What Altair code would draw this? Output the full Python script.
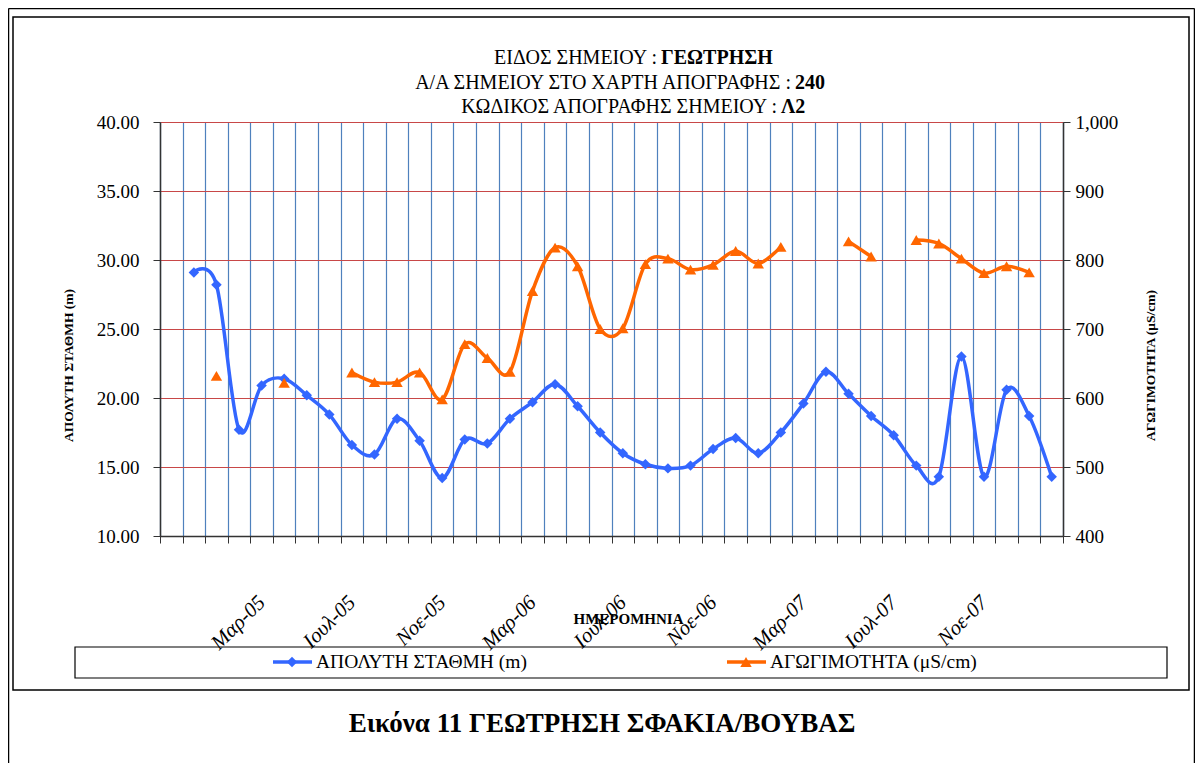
import altair as alt
import pandas as pd

# ---- data (monthly slots, slot 0 = Nov-04) ----
SLOTS = list(range(1, 40))  # Dec-04 ... Feb-08
LEVEL = [29.1, 28.2, 17.7, 20.9, 21.4, 20.2, 18.8, 16.6, 15.9, 18.5,
         16.9, 14.2, 17.0, 16.7, 18.5, 19.7, 21.0, 19.4, 17.5, 16.0,
         15.2, 14.9, 15.1, 16.3, 17.1, 16.0, 17.5, 19.6, 21.9, 20.3,
         18.7, 17.3, 15.1, 14.3, 23.0, 14.3, 20.6, 18.7, 14.3]
COND = [None, 632, None, None, 622, None, None, 637, 623, 623,
        637, 598, 678, 658, 638, 755, 818, 791, 700, 701,
        794, 802, 786, 793, 813, 795, 819, None, None, 827,
        805, None, 829, 824, 802, 781, 791, 782, None]
LABEL_SLOTS = [4, 8, 12, 16, 20, 24, 28, 32, 36]
LABEL_TEXTS = ["Μαρ-05", "Ιουλ-05", "Νοε-05", "Μαρ-06", "Ιουλ-06",
               "Νοε-06", "Μαρ-07", "Ιουλ-07", "Νοε-07"]
N_SLOTS = 40

SERIES_1 = "ΑΠΟΛΥΤΗ ΣΤΑΘΜΗ (m)"
SERIES_2 = "ΑΓΩΓΙΜΟΤΗΤΑ (μS/cm)"

# ---- tables ----
lvl_df = pd.DataFrame({"pos": [s + 0.5 for s in SLOTS], "v": LEVEL})
seg, segs = 0, []
for c in COND:
    if c is None:
        seg += 1
    segs.append(seg)
cond_df = pd.DataFrame({"pos": [s + 0.5 for s in SLOTS], "v": COND, "seg": segs})
cond_df = cond_df[cond_df["v"].notna()]

W, H = 903, 414
FONT = "Liberation Serif"
BLUE = "#3366ff"
ORANGE = "#ff6600"

expr = ""
for s, t in zip(LABEL_SLOTS, LABEL_TEXTS):
    expr += f"datum.value == {s} ? '{t}' : "
expr += "''"

X = alt.X(
    "pos:Q",
    scale=alt.Scale(domain=[0, N_SLOTS], nice=False, zero=False),
    axis=alt.Axis(
        values=list(range(N_SLOTS + 1)), grid=True, gridColor="#4f81bd", gridWidth=1.2,
        labelExpr=expr, labelAngle=315, labelAlign="right", labelBaseline="middle",
        labelOffset=W / N_SLOTS / 2, labelPadding=56, labelFontStyle="italic",
        labelFontSize=21, labelFont=FONT, labelColor="black",
        labelOverlap=False, labelFlush=False,
        tickSize=7, tickColor="#333333", domainColor="#333333", domainWidth=1.5,
        title="ΗΜΕΡΟΜΗΝΙΑ", titleFont=FONT, titleFontWeight="bold", titleFontSize=15,
        titleX=468, titleY=82, titleBaseline="middle", titleAlign="center",
        titleColor="black",
    ),
)

blue_line = alt.Chart(lvl_df).mark_line(
    interpolate="cardinal", color=BLUE, strokeWidth=3.5
).encode(
    x=X,
    y=alt.Y(
        "v:Q",
        scale=alt.Scale(domain=[10, 40], nice=False, zero=False),
        axis=alt.Axis(
            values=[10, 15, 20, 25, 30, 35, 40], format=".2f", grid=True,
            gridColor="#c84848", gridWidth=1.2, labelFont=FONT, labelFontSize=19,
            labelColor="black", labelPadding=14, tickSize=7, tickColor="#333333",
            domainColor="#333333", domainWidth=1.5,
            title=SERIES_1, titleFont=FONT, titleFontSize=13.5, titleFontWeight="bold",
            titleAngle=270, titleX=-92, titleY=243, titleAlign="center",
            titleBaseline="middle", titleColor="black",
        ),
    ),
)
blue_pts = alt.Chart(lvl_df).mark_point(
    shape="diamond", filled=True, size=110, color=BLUE, opacity=1
).encode(x=X, y="v:Q")
blue = alt.layer(blue_line, blue_pts)

Y2 = alt.Y(
    "v:Q",
    scale=alt.Scale(domain=[400, 1000], nice=False, zero=False),
    axis=alt.Axis(
        orient="right", values=[400, 500, 600, 700, 800, 900, 1000], format=",d",
        grid=False, labelFont=FONT, labelFontSize=19, labelColor="black",
        labelPadding=5, tickSize=7, tickColor="#333333", domainColor="#333333",
        domainWidth=1.5, title=SERIES_2, titleFont=FONT, titleFontSize=13.5,
        titleFontWeight="bold", titleAngle=270, titleX=87, titleY=243,
        titleAlign="center", titleBaseline="middle", titleColor="black",
    ),
)
orange_line = alt.Chart(cond_df).mark_line(
    interpolate="cardinal", color=ORANGE, strokeWidth=3.5
).encode(x=X, y=Y2, detail="seg:N")
orange_pts = alt.Chart(cond_df).mark_point(
    shape="triangle-up", filled=True, size=130, color=ORANGE, opacity=1
).encode(x=X, y="v:Q")
orange = alt.layer(orange_line, orange_pts)

# ---- decorations (frames, titles, legend, caption) in pixel space ----
one = pd.DataFrame({"k": [0]})


def txt(x, y, s, size, weight="normal", align="center", baseline="alphabetic"):
    return alt.Chart(one).mark_text(
        text=s, font=FONT, fontSize=size, fontWeight=weight, align=align,
        baseline=baseline, color="black",
    ).encode(x=alt.value(x), y=alt.value(y))


def rule(x, x2, y, y2, color="black", width=1.5):
    return alt.Chart(one).mark_rule(color=color, strokeWidth=width).encode(
        x=alt.value(x), x2=alt.value(x2), y=alt.value(y), y2=alt.value(y2)
    )


def box(x, x2, y, y2, width=1.5):
    return alt.Chart(one).mark_rect(
        fillOpacity=0, stroke="black", strokeWidth=width
    ).encode(x=alt.value(x), x2=alt.value(x2), y=alt.value(y), y2=alt.value(y2))


deco = [
    rule(-151.5, -151.5, -113.5, 641),
    rule(1034.5, 1034.5, -113.5, 641),
    rule(-151.5, 1034.5, -113.5, -113.5),
    box(-147, 1029, -105, 568),
    box(-85, 1007, 525, 556, 1.2),
    # title
    txt(497, -58, "ΕΙΔΟΣ ΣΗΜΕΙΟΥ :", 20, align="right"),
    txt(501, -58, "ΓΕΩΤΡΗΣΗ", 20, "bold", align="left"),
    txt(631, -33, "Α/Α ΣΗΜΕΙΟΥ ΣΤΟ ΧΑΡΤΗ ΑΠΟΓΡΑΦΗΣ :", 20, align="right"),
    txt(635, -33, "240", 20, "bold", align="left"),
    txt(617, -9, "ΚΩΔΙΚΟΣ ΑΠΟΓΡΑΦΗΣ ΣΗΜΕΙΟΥ :", 20, align="right"),
    txt(621, -9, "Λ2", 20, "bold", align="left"),
    # legend
    rule(113, 152, 540, 540, BLUE, 3.5),
    alt.Chart(one).mark_point(shape="diamond", filled=True, size=110, color=BLUE, opacity=1)
    .encode(x=alt.value(132), y=alt.value(540)),
    txt(156, 540, SERIES_1, 19.5, align="left", baseline="middle"),
    rule(567, 606, 540, 540, ORANGE, 3.5),
    alt.Chart(one).mark_point(shape="triangle-up", filled=True, size=130, color=ORANGE, opacity=1)
    .encode(x=alt.value(586), y=alt.value(540)),
    txt(610, 540, SERIES_2, 19.5, align="left", baseline="middle"),
    # caption
    txt(442, 610, "Εικόνα 11 ΓΕΩΤΡΗΣΗ ΣΦΑΚΙΑ/ΒΟΥΒΑΣ", 27, "bold"),
]

main = alt.layer(blue, orange).resolve_scale(y="independent")

chart = alt.layer(main, *deco).properties(
    width=W, height=H,
    autosize=alt.AutoSizeParams(type="none"),
    padding={"left": 152, "top": 114, "right": 132, "bottom": 227},
    background="white",
).configure_view(stroke="#999999", strokeWidth=1)

chart.save("out.html", embed_options={"renderer": "svg", "actions": False})
